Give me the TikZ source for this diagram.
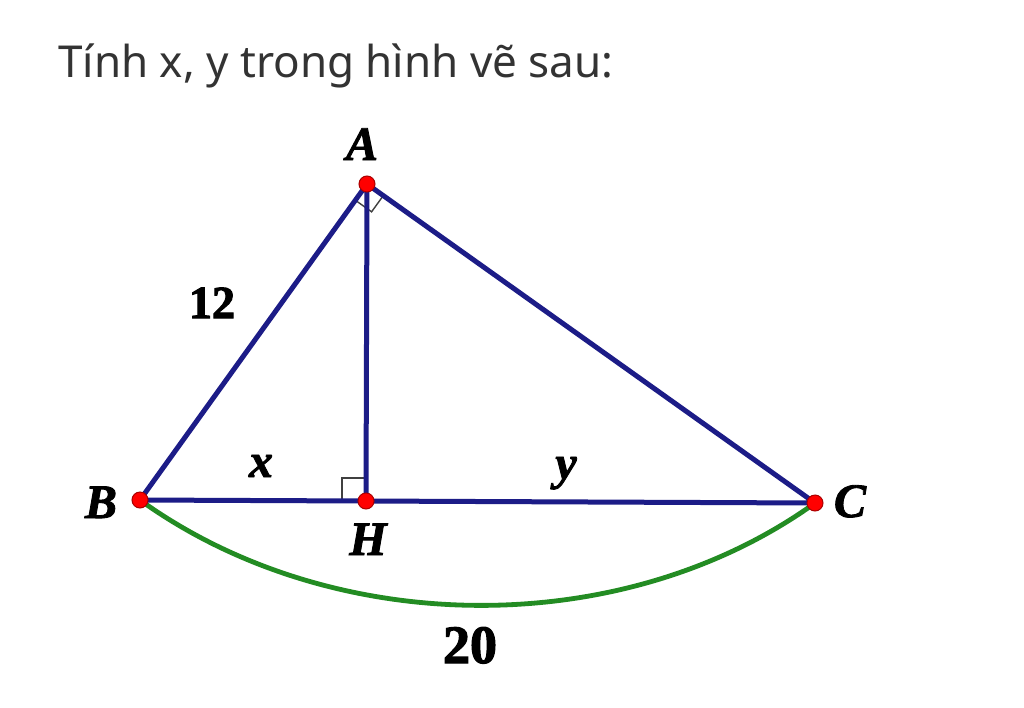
\documentclass[tikz,border=0pt]{standalone}
\usepackage{fontspec}
\setmainfont{Liberation Serif}
\newfontfamily\titlefont{Noto Sans}
\newfontfamily\heavyit[FakeBold=1.8]{Liberation Serif Bold Italic}
\newfontfamily\heavyup[FakeBold=2.2]{Liberation Serif Bold}
\begin{document}
\begin{tikzpicture}[x=1pt,y=-1pt,
  side/.style={draw={rgb,255:red,28;green,28;blue,135},line width=5pt},
  arcline/.style={draw={rgb,255:red,35;green,140;blue,35},line width=4.8pt},
  ptdot/.style={circle,fill=red,draw={rgb,255:red,170;green,0;blue,0},line width=1pt,minimum size=16pt,inner sep=0pt},
  lbl/.style={font=\heavyit\fontsize{48}{48}\selectfont,inner sep=0pt,anchor=base},
  num/.style={font=\heavyup\fontsize{46}{46}\selectfont,inner sep=0pt,anchor=base},
  anglemark/.style={draw=black!75,line width=1.4pt}]
\useasboundingbox (0,0) rectangle (1024,707);
\fill[white] (0,0) rectangle (1024,707);
\node[anchor=west,inner sep=0pt,text={rgb,255:red,51;green,51;blue,51},font=\titlefont\fontsize{44}{44}\selectfont] (title) at (58,66) {Tính x, y trong hình vẽ sau:};
\coordinate (A) at (367,184);
\coordinate (B) at (140,500);
\coordinate (H) at (366,501);
\coordinate (C) at (815,503);
% right angle marks
\draw[anglemark] (355.3,200.2) -- (371.6,211.8) -- (383.3,195.6);
\draw[anglemark] (342,501) -- (342,478) -- (366,478);
% sides
\draw[side] (A) -- (B) (B) -- (C) (C) -- (A) (A) -- (H);
\draw[arcline,line cap=round] (B) .. controls (333,639) and (623,641) .. (C);
\node[ptdot] (dA) at (A) {};
\node[ptdot] (dB) at (B) {};
\node[ptdot] (dH) at (H) {};
\node[ptdot] (dC) at (C) {};
\node[lbl] (lA) at (362,160) {A};
\node[lbl] (lB) at (101,518) {B};
\node[lbl] (lH) at (368,555) {H};
\node[lbl] (lC) at (850,517) {C};
\node[lbl] (lx) at (261,477) {x};
\node[lbl] (ly) at (566,479) {y};
\node[num] (l12) at (212,318) {12};
\node[num,font=\heavyup\fontsize{54}{54}\selectfont] (l20) at (470,663) {20};
\end{tikzpicture}
\end{document}
